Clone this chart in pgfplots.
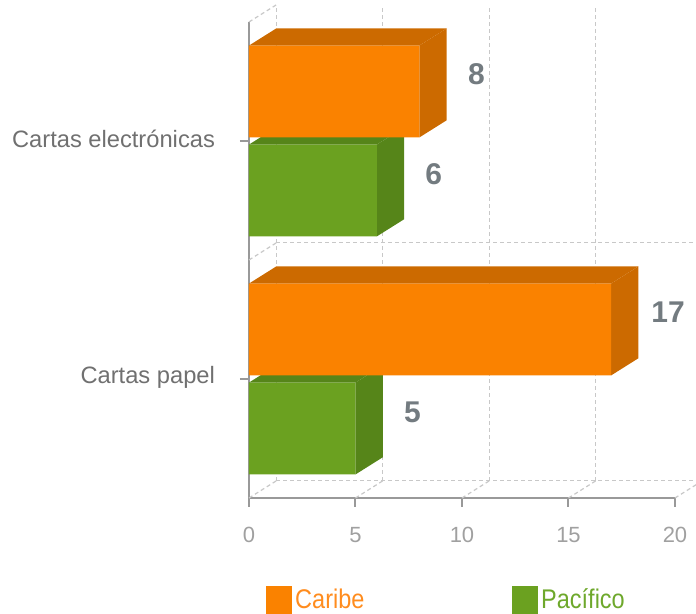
\documentclass[border=0pt]{standalone}
\usepackage{fontspec}
\setmainfont{Liberation Sans}
\newfontfamily\legendfont[FakeStretch=0.87]{Liberation Sans}
\usepackage{pgfplots}
\pgfplotsset{compat=1.18}

\definecolor{caribe}{HTML}{FA8200}
\definecolor{caribedark}{HTML}{CC6A00}
\definecolor{pacifico}{HTML}{6BA120}
\definecolor{pacificodark}{HTML}{568519}
\definecolor{caribetext}{HTML}{FF8C1E}
\definecolor{pacificotext}{HTML}{6EA82C}
\definecolor{axisgray}{HTML}{999999}
\definecolor{gridgray}{HTML}{C8C8C8}
\definecolor{labelgray}{HTML}{707070}
\definecolor{ticklabelgray}{HTML}{A0A0A0}
\definecolor{valuegray}{HTML}{737B80}

\tikzset{griddash/.style={gridgray, line width=0.6pt, dash pattern=on 2pt off 1.5pt}}

\begin{document}
\begin{tikzpicture}
\begin{axis}[
  scale only axis, width=213pt, height=238pt,
  xmin=0, xmax=20, ymin=-0.5, ymax=1.5,
  clip=false,
  axis lines*=left,
  axis line style={axisgray, line width=1pt},
  tick style={axisgray, line width=1pt},
  tick align=outside, major tick length=4.5pt,
  xtick={0,5,10,15,20},
  ytick={0,1},
  yticklabels={Cartas papel, Cartas electrónicas},
  /pgf/number format/assume math mode=true,
  xticklabel style={font=\fontsize{11}{12}\selectfont, text=ticklabelgray, yshift=-6.5pt},
  yticklabel style={font=\fontsize{11.85}{13}\selectfont, text=labelgray, xshift=-9pt, yshift=1pt},
  legend columns=2,
  legend style={draw=none, fill=none, at={(axis description cs:0.04,-0.214)}, anchor=west,
    font=\legendfont\fontsize{13.5}{14}\selectfont, inner sep=0pt, nodes={inner sep=1.5pt}},
  legend cell align=left,
  every node near coord/.append style={font=\bfseries\fontsize{15}{15}\selectfont, text=valuegray},
]
\coordinate (O) at (axis cs:0,-0.5);

% back wall and floor of the 3D box
\pgfplotsinvokeforeach{0,5,10,15,20}{
  \draw[griddash] (axis cs:{#1+1.28},-0.428) -- (axis cs:{#1+1.28},1.572);
  \draw[griddash] (axis cs:#1,-0.5) -- (axis cs:{#1+1.28},-0.428);
}
\draw[griddash] (axis cs:1.28,0.572) -- (axis cs:21.28,0.572);
\draw[griddash] (axis cs:1.28,-0.428) -- (axis cs:21.28,-0.428);
\draw[griddash] (axis cs:0,0.5) -- (axis cs:1.28,0.572);
\draw[griddash] (axis cs:0,1.5) -- (axis cs:1.28,1.572);

% Pacifico: top and side faces, then front
\addplot[fill=pacificodark, draw=none, mark=none, forget plot] coordinates {(0,0.985) (1.28,1.057) (7.28,1.057) (6,0.985)};
\addplot[fill=pacificodark, draw=none, mark=none, forget plot] coordinates {(6,0.599) (7.28,0.671) (7.28,1.057) (6,0.985)};
\addplot[fill=pacificodark, draw=none, mark=none, forget plot] coordinates {(0,-0.015) (1.28,0.057) (6.28,0.057) (5,-0.015)};
\addplot[fill=pacificodark, draw=none, mark=none, forget plot] coordinates {(5,-0.401) (6.28,-0.329) (6.28,0.057) (5,-0.015)};
\addplot[xbar, bar width=0.386, bar shift=-0.208, fill=pacifico, draw=none, forget plot,
  point meta=x, nodes near coords,
  every node near coord/.append style={anchor=center, xshift=28.5pt, yshift=-16.5pt}]
  coordinates {(6,1) (5,0)};

% Caribe: top and side faces, then front
\addplot[fill=caribedark, draw=none, mark=none, forget plot] coordinates {(0,1.401) (1.28,1.473) (9.28,1.473) (8,1.401)};
\addplot[fill=caribedark, draw=none, mark=none, forget plot] coordinates {(8,1.015) (9.28,1.087) (9.28,1.473) (8,1.401)};
\addplot[fill=caribedark, draw=none, mark=none, forget plot] coordinates {(0,0.401) (1.28,0.473) (18.28,0.473) (17,0.401)};
\addplot[fill=caribedark, draw=none, mark=none, forget plot] coordinates {(17,0.015) (18.28,0.087) (18.28,0.473) (17,0.401)};
\addplot[xbar, bar width=0.386, bar shift=0.208, fill=caribe, draw=none, forget plot,
  point meta=x, nodes near coords,
  every node near coord/.append style={anchor=center, xshift=28.5pt, yshift=33.5pt}]
  coordinates {(8,1) (17,0)};

\addlegendimage{legend image code/.code={\fill[caribe] (0pt,-6.75pt) rectangle (12.5pt,6.75pt);}}
\addlegendentry{\textcolor{caribetext}{Caribe}\hspace*{72.5pt}}
\addlegendimage{legend image code/.code={\fill[pacifico] (0pt,-6.75pt) rectangle (12.5pt,6.75pt);}}
\addlegendentry{\textcolor{pacificotext}{Pacífico}}
\end{axis}
\pgfresetboundingbox
\path ([shift={(-124.5pt,-58pt)}]O) rectangle ([shift={(223.5pt,249pt)}]O);
\end{tikzpicture}
\end{document}
